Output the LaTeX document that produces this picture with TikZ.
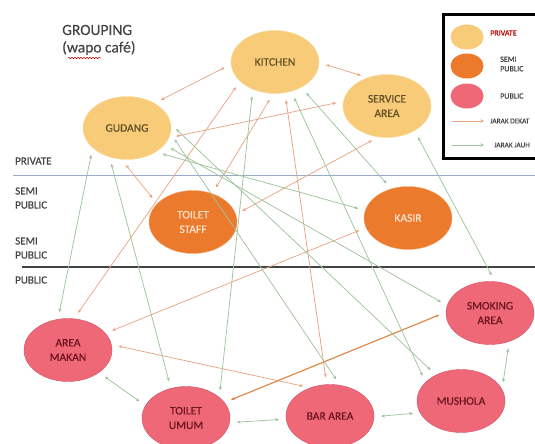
\documentclass[tikz,border=0pt]{standalone}
\usepackage{fontspec}
\setmainfont{Carlito}
\usetikzlibrary{shapes.geometric,arrows.meta,decorations.pathmorphing}

\definecolor{privfill}{RGB}{247,203,120}
\definecolor{privedge}{RGB}{250,218,160}
\definecolor{privtext}{RGB}{100,80,40}
\definecolor{semifill}{RGB}{236,122,45}
\definecolor{semiedge}{RGB}{245,168,115}
\definecolor{semitext}{RGB}{255,228,205}
\definecolor{pubfill}{RGB}{238,104,120}
\definecolor{pubedge}{RGB}{212,82,98}
\definecolor{pubtext}{RGB}{110,22,32}
\definecolor{neartone}{RGB}{233,166,132}
\definecolor{nearstrong}{RGB}{222,138,78}
\definecolor{fartone}{RGB}{158,196,156}
\definecolor{labeltone}{RGB}{68,68,68}
\definecolor{privline}{RGB}{150,172,200}

\tikzset{
  zone/.style={ellipse, minimum width=88pt, minimum height=63pt, inner sep=0pt,
    align=center, font=\fontsize{11.5}{14.5}\selectfont\addfontfeature{FakeBold=0.6}},
  zonelabel/.style={anchor=west, inner sep=0pt, align=left, text=labeltone,
    font=\fontsize{11}{14}\selectfont\addfontfeature{FakeBold=0.4}},
  keymark/.style={ellipse, minimum width=33pt, minimum height=25pt, inner sep=0pt},
  keytext/.style={anchor=west, inner sep=0pt, align=left, text=labeltone,
    font=\fontsize{8}{9.5}\selectfont\addfontfeature{FakeBold=0.4}},
  link/.style={draw, line width=.75pt, <->, shorten <=7pt, shorten >=7pt},
}

\begin{document}
\begin{tikzpicture}[x=1pt,y=-1pt,>={Stealth[length=3.8pt,width=3.2pt]}]
  \useasboundingbox (0,0) rectangle (535,444);

  % title
  \node[anchor=west, inner sep=0pt, text=labeltone, font=\fontsize{15.5}{18}\selectfont\addfontfeature{FakeBold=0.4}] (title) at (62,30) {GROUPING};
  \node[anchor=west, inner sep=0pt, text=labeltone, font=\fontsize{15.5}{18}\selectfont\addfontfeature{FakeBold=0.4}] (subtitle) at (62,48) {(wapo café)};
  \draw[red!80!black, line width=.5pt, decorate, decoration={snake, amplitude=.7pt, segment length=3pt}] (68,58) -- (101,58);

  % zones
  \draw[privline, line width=.8pt] (13,175) -- (535,175);
  \draw[labeltone, line width=1.2pt] (22,267) -- (535,267);
  \node[zonelabel] (zpriv)  at (15,161) {PRIVATE};
  \node[zonelabel] (zsemi)  at (15,198) {SEMI\\PUBLIC};
  \node[zonelabel] (zsemib) at (15,248) {SEMI\\PUBLIC};
  \node[zonelabel] (zpub)   at (15,280) {PUBLIC};

  % legend
  \draw[line width=3pt] (535,15) -- (443,15) -- (443,158) -- (535,158);
  \node[keymark, fill=privfill] (kpriv) at (467,37) {};
  \node[keymark, fill=semifill] (ksemi) at (467,66) {};
  \node[keymark, fill=pubfill]  (kpub)  at (467,96) {};
  \node[keytext, text=red!75!black] (tpriv) at (490,33) {PRIVATE};
  \node[keytext] (tsemi) at (500,64) {SEMI\\PUBLIC};
  \node[keytext] (tpub)  at (500,96) {PUBLIC};
  \coordinate (kneara) at (452,121);
  \coordinate (knearb) at (484,121);
  \coordinate (kfara)  at (452,145);
  \coordinate (kfarb)  at (484,145);
  \draw[neartone, line width=.75pt, ->] (kneara) -- (knearb);
  \draw[fartone, line width=.75pt, ->] (kfara) -- (kfarb);
  \node[keytext, font=\fontsize{7.3}{9}\selectfont\addfontfeature{FakeBold=0.4}] (tnear) at (490,121) {JARAK DEKAT};
  \node[keytext, font=\fontsize{7.3}{9}\selectfont\addfontfeature{FakeBold=0.4}] (tfar)  at (494,145) {JARAK JAUH};

  \begin{scope}[every node/.style={zone, fill=privfill, draw=privedge, text=privtext}]
    \node (kitchen) at (275,62)  {KITCHEN};
    \node (service) at (387,106) {SERVICE\\AREA};
    \node (gudang)  at (127,128) {GUDANG};
  \end{scope}

  \begin{scope}[every node/.style={zone, fill=semifill, draw=semiedge, text=semitext}]
    \node (staff) at (193,222) {TOILET\\STAFF};
    \node (kasir) at (408,218) {KASIR};
  \end{scope}

  \begin{scope}[every node/.style={zone, fill=pubfill, draw=pubedge, text=pubtext}]
    \node (makan)   at (68,350)  {AREA\\MAKAN};
    \node (umum)    at (186,418) {TOILET\\UMUM};
    \node (bar)     at (330,416) {BAR AREA};
    \node (mushola) at (461,401) {MUSHOLA};
    \node (smoking) at (490,313) {SMOKING\\AREA};
  \end{scope}

  % jarak dekat
  \begin{scope}[every edge/.style={link, draw=neartone}]
    \path (kitchen.183) edge (gudang.42);
    \path (kitchen.359) edge (service.124);
    \path (kitchen.209) edge (makan.79);
    \path (kitchen.267) edge (staff.56);
    \path (kitchen.288) edge (bar.96);
    \path (gudang.347)  edge (service.174);
    \path (gudang.260)  edge (staff.153);
    \path (service.254) edge (staff.10);
    \path (kasir.193)   edge (makan.24);
    \path (makan.7)     edge (bar.125);
    \path (umum.22)     edge[draw=nearstrong, line width=1.2pt] (smoking.179);
  \end{scope}

  % jarak jauh
  \begin{scope}[every edge/.style={link, draw=fartone}]
    \path (gudang.210)  edge (makan.108);
    \path (gudang.239)  edge (umum.117);
    \path (gudang.320)  edge (kasir.170);
    \path (gudang.336)  edge (smoking.170);
    \path (gudang.5)    edge (mushola.134);
    \path (gudang.353)  edge (bar.72);
    \path (kitchen.231) edge (umum.32);
    \path (kitchen.299) edge (mushola.152);
    \path (kitchen.316) edge (kasir.120);
    \path (service.318) edge (smoking.81);
    \path (makan.324)   edge (umum.163);
    \path (umum.354)    edge (bar.184);
    \path (bar.359)     edge (mushola.196);
    \path (mushola.16)  edge (smoking.304);
  \end{scope}

\end{tikzpicture}
\end{document}
